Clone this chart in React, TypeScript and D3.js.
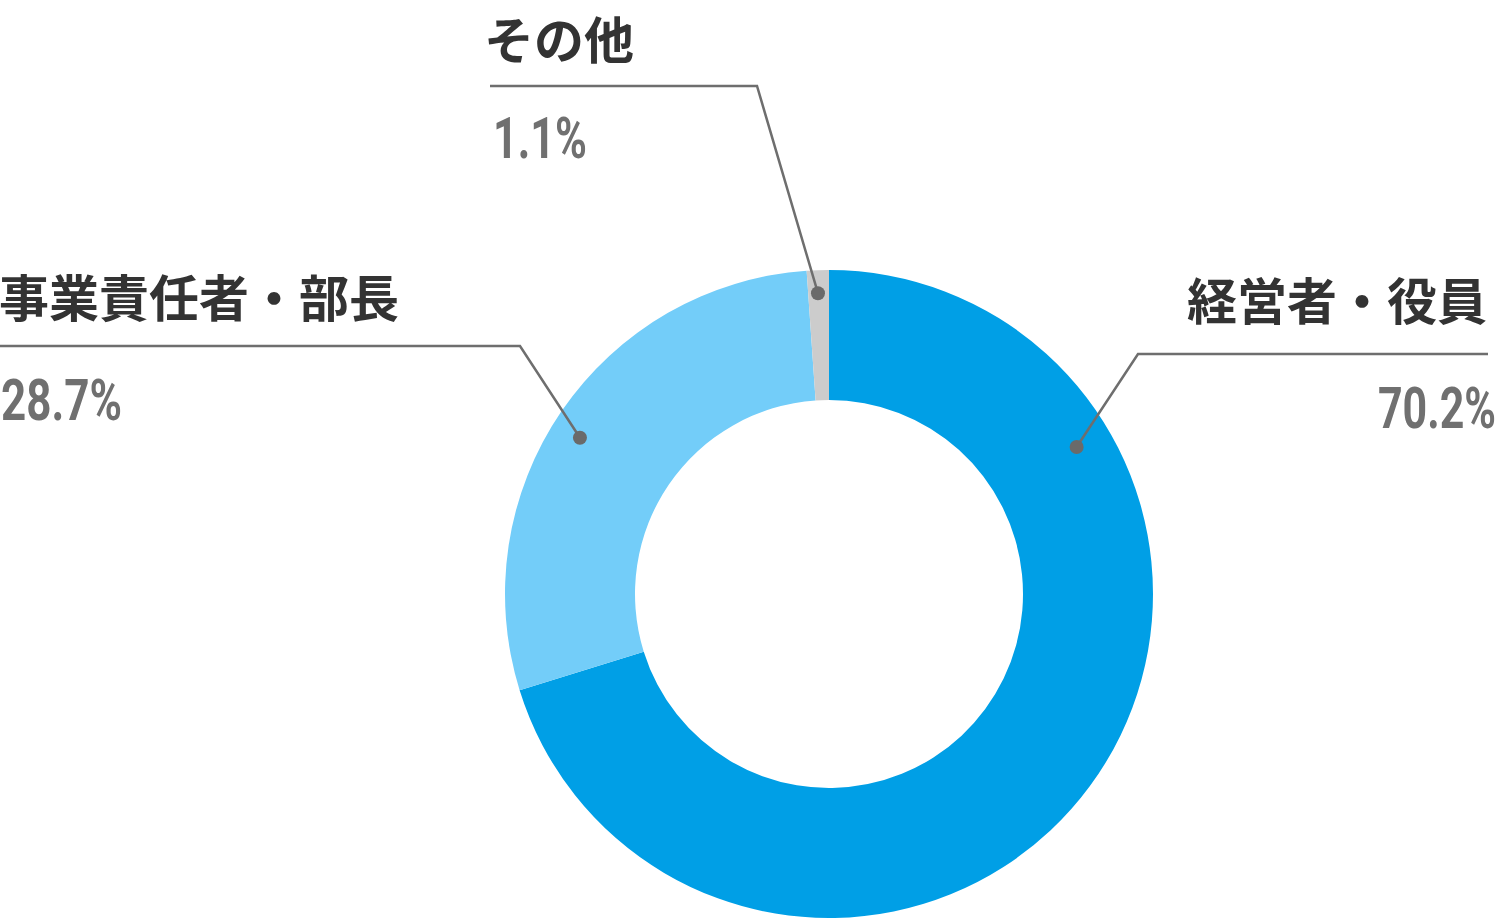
import React, { useEffect, useRef } from 'react';
import * as d3 from 'd3';

const categories = ['経営者・役員', '事業責任者・部長', 'その他'];
const values = [70.2, 28.7, 1.1];
const sliceColors = ['#009fe6', '#73cdf9', '#cccccc'];

// label placement per slice (layout only)
const labelLayout = [
  { dotAngle: 59.3, dotR: 288, elbow: [1138, 354], end: 1488, anchor: 'end', nameX: 1487, nameY: 319.5, pctX: 1496, pctY: 428, pctW: 118 },
  { dotAngle: 302.1, dotR: 294, elbow: [520, 346], end: 0, anchor: 'start', nameX: -1, nameY: 316.5, pctX: 1, pctY: 420, pctW: 121 },
  { dotAngle: 357.9, dotR: 301, elbow: [757, 86], end: 490, anchor: 'start', nameX: 484, nameY: 58.5, pctX: 493, pctY: 158, pctW: 94 },
];

const width = 1500;
const height = 919;
const cx = 829;
const cy = 594;

const App: React.FC = () => {
  const ref = useRef<SVGSVGElement>(null);

  useEffect(() => {
    const svg = d3.select(ref.current);
    svg.selectAll('*').remove();

    const pie = d3
      .pie<number>()
      .sort(null)
      .value((d) => d);
    const arc = d3.arc<d3.PieArcDatum<number>>().innerRadius(194).outerRadius(324);

    const g = svg.append('g').attr('transform', `translate(${cx},${cy})`);
    g.selectAll('path')
      .data(pie(values))
      .join('path')
      .attr('d', arc)
      .attr('fill', (_d, i) => sliceColors[i]);

    const labels = svg.append('g');
    labelLayout.forEach((l, i) => {
      const a = (l.dotAngle * Math.PI) / 180;
      const dx = cx + l.dotR * Math.sin(a);
      const dy = cy - l.dotR * Math.cos(a);

      labels
        .append('polyline')
        .attr('points', [[l.end, l.elbow[1]], l.elbow, [dx, dy]].map((p) => p.join(',')).join(' '))
        .attr('fill', 'none')
        .attr('stroke', '#6e6e6e')
        .attr('stroke-width', 2.5);

      labels.append('circle').attr('cx', dx).attr('cy', dy).attr('r', 7).attr('fill', '#6a6a6a');

      labels
        .append('text')
        .attr('x', l.nameX)
        .attr('y', l.nameY)
        .attr('text-anchor', l.anchor)
        .attr('font-family', '"Noto Sans CJK JP", sans-serif')
        .attr('font-weight', 700)
        .attr('font-size', 50)
        .attr('fill', '#333333')
        .text(categories[i]);

      labels
        .append('text')
        .attr('x', l.pctX)
        .attr('y', l.pctY)
        .attr('text-anchor', l.anchor)
        .attr('font-family', 'Roboto, sans-serif')
        .attr('font-weight', 700)
        .attr('font-size', 57)
        .attr('textLength', l.pctW)
        .attr('lengthAdjust', 'spacingAndGlyphs')
        .attr('fill', '#707070')
        .text(`${values[i].toFixed(1)}%`);
    });
  }, []);

  return (
    <div style={{ position: 'absolute', left: 0, top: 0 }}>
      <svg ref={ref} width={width} height={height} style={{ display: 'block', background: '#fff' }} />
    </div>
  );
};

export default App;
